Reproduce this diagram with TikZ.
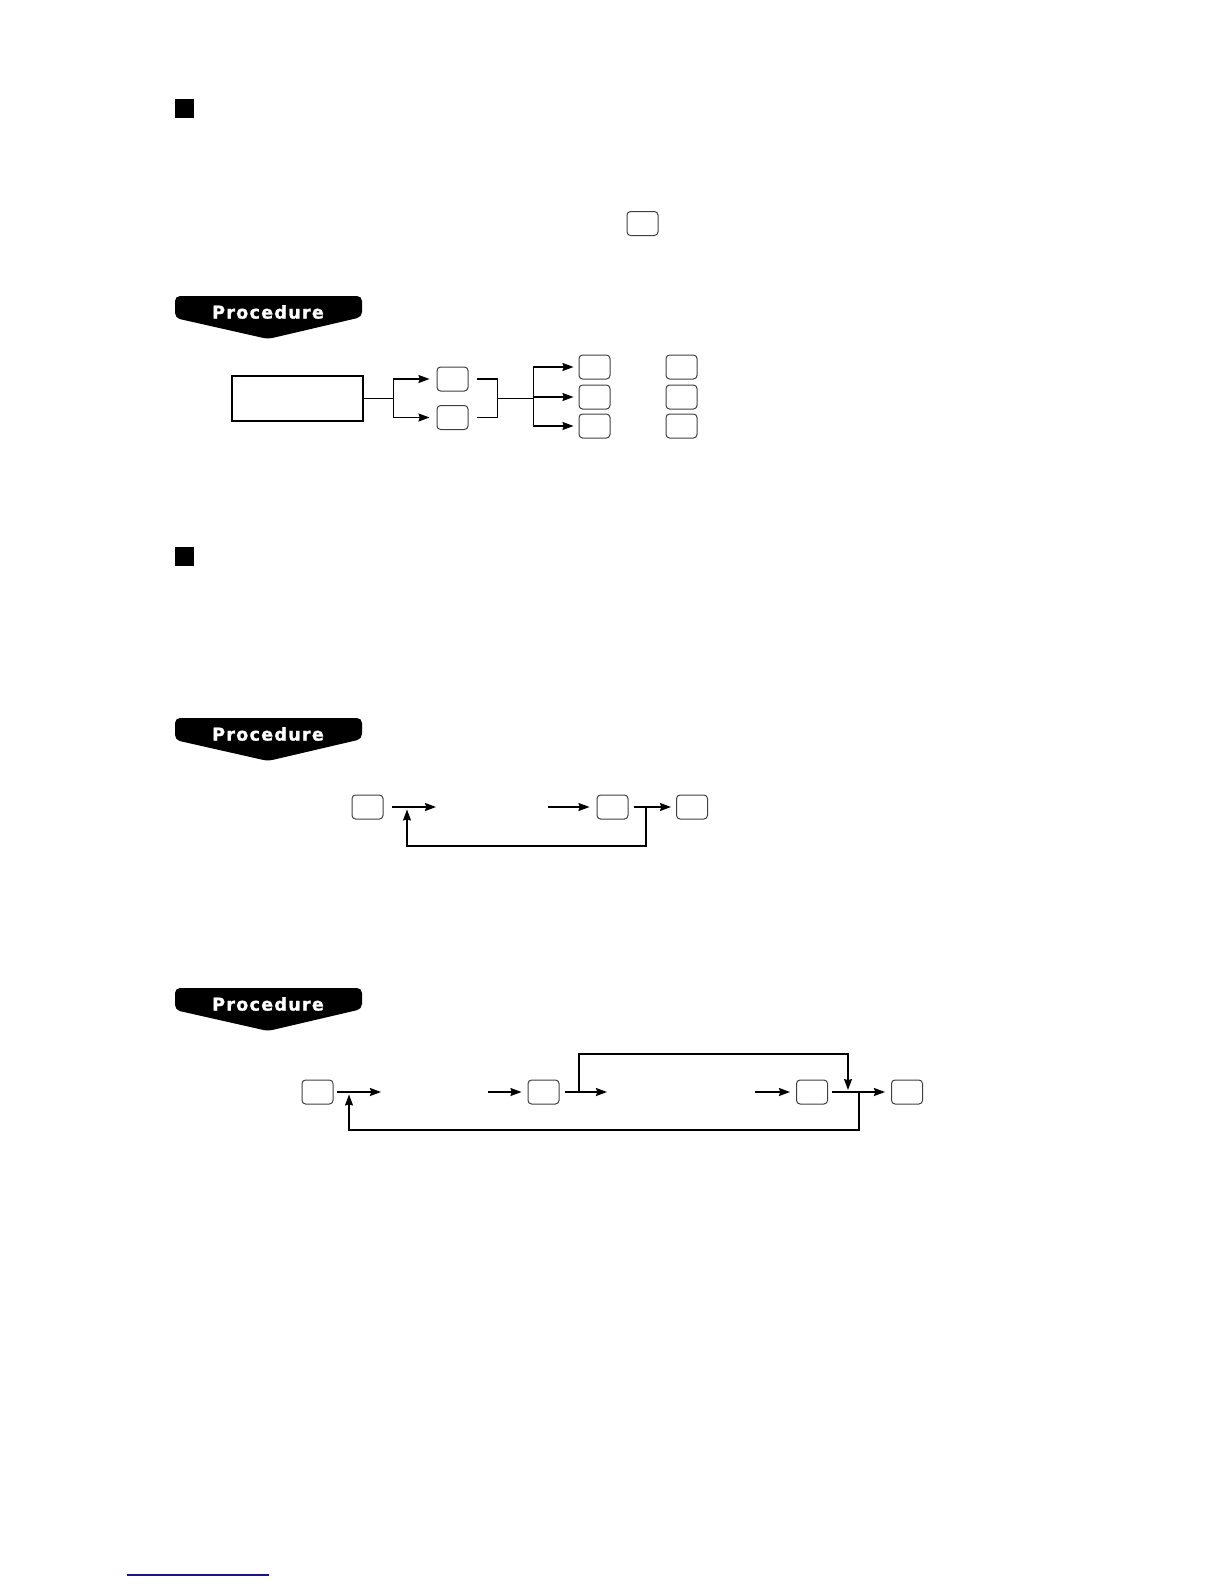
\documentclass[tikz,border=0pt]{standalone}
\usepackage{fontspec}
\newfontfamily\bannerfont{DejaVu Sans}[LetterSpace=7, FakeBold=1.2]
\usetikzlibrary{arrows.meta, positioning, calc}
\definecolor{linkblue}{RGB}{20,20,140}
\tikzset{
         mykey/.style={draw=black!75, rounded corners=1.8pt, minimum height=12pt, minimum width=15.5pt, inner sep=0pt, line width=.5pt},
         myentry/.style={draw, minimum height=22.5pt, minimum width=65.5pt, inner sep=0pt, line width=.7pt},
         mymark/.style={fill=black, minimum size=9.5pt, inner sep=0pt},
         myflow/.style={line width=.7pt},
         procbanner/.pic={
            \fill[rounded corners=2.5pt] (0,22) -- (0,0) -- (187,0) -- (187,21) -- (93,43) -- cycle;
            \node[text=white, font=\bannerfont\bfseries\fontsize{8.8}{10}\selectfont] (-label) at (93,16) {Procedure};
         }
      }

\begin{document}
\begin{tikzpicture}[x=.5pt, y=-.5pt, >={Stealth[length=5.5pt,width=4pt,inset=.6pt]}]
\useasboundingbox (0,0) rectangle (1224,1584);

% section marks and banners
\node[mymark] (mark1) at (184.5,108.5) {};
\node[mymark] (mark2) at (184.5,556.5) {};
\node[mykey] (key0) at (642.5,223.5) {};
\pic (proc1) at (175,296) {procbanner};
\pic (proc2) at (175,718) {procbanner};
\pic (proc3) at (175,988) {procbanner};

% first procedure
\node[myentry] (entry) at (297.5,398.5) {};
\node[mykey] (dep1) at (452.5,379) {};
\node[mykey] (dep2) at (452.5,417.5) {};
\foreach \y [count=\i] in {367,397,426} {
    \node[mykey] (b\i) at (594.5,\y) {};
    \node[mykey] (c\i) at (681.5,\y) {};
}
\coordinate (j1) at ([xshift=15pt]entry.east);
\coordinate (j2) at ($(dep1.east)!.5!(dep2.east)+(29,0)$);
\coordinate (j3) at ($(j2)+(36,0)$);
\draw[myflow] (entry.east) -- (j1);
\draw[myflow,->,shorten >=3.5pt] (j1) |- (dep1);
\draw[myflow,->,shorten >=3.5pt] (j1) |- (dep2);
\draw[myflow] ([xshift=4pt]dep1.east) -- ++(21,0) |- ([xshift=4pt]dep2.east);
\draw[myflow] (j2) -- (j3);
\foreach \i in {1,2,3}
    \draw[myflow,->,shorten >=2.5pt] (j3) |- (b\i);

% second procedure
\node[mykey] (k1) at (367.5,807) {};
\node[mykey] (k2) at (612.5,807) {};
\node[mykey] (k3) at (692,807) {};
\coordinate (s1) at (392,807);
\coordinate (e1) at (436,807);
\coordinate (s2) at (548,807);
\coordinate (r1) at (646,807);
\coordinate (u1) at (407,809.5);
\draw[myflow,->] (s1) -- (e1);
\draw[myflow,->,shorten >=3.5pt] (s2) -- (k2);
\draw[myflow,->,shorten >=2.5pt] ([xshift=2.5pt]k2.east) -- (k3);
\draw[myflow,->] (r1) -- ++(0,39) -| (u1);

% third procedure
\node[mykey] (m1) at (317.5,1092) {};
\node[mykey] (m2) at (543.5,1092) {};
\node[mykey] (m3) at (812,1092) {};
\node[mykey] (m4) at (907,1092) {};
\coordinate (t1) at (337,1092);
\coordinate (t2) at (381,1092);
\coordinate (t3) at (488,1092);
\coordinate (t4) at (607,1092);
\coordinate (t5) at (579,1092);
\coordinate (d1) at (848,1090);
\coordinate (t7) at (755,1092);
\coordinate (t8) at (859,1092);
\coordinate (u2) at (349,1094.5);
\draw[myflow,->] (t1) -- (t2);
\draw[myflow,->,shorten >=3pt] (t3) -- (m2);
\draw[myflow,->] ([xshift=2.5pt]m2.east) -- (t4);
\draw[myflow,->] (t5) -- ++(0,-38) -| (d1);
\draw[myflow,->,shorten >=3pt] (t7) -- (m3);
\draw[myflow,->,shorten >=3pt] ([xshift=2pt]m3.east) -- (m4);
\draw[myflow,->] (t8) -- ++(0,38) -| (u2);

% footer rule
\draw[line width=.8pt, linkblue] (127,1575) -- (269,1575);
\end{tikzpicture}
\end{document}
